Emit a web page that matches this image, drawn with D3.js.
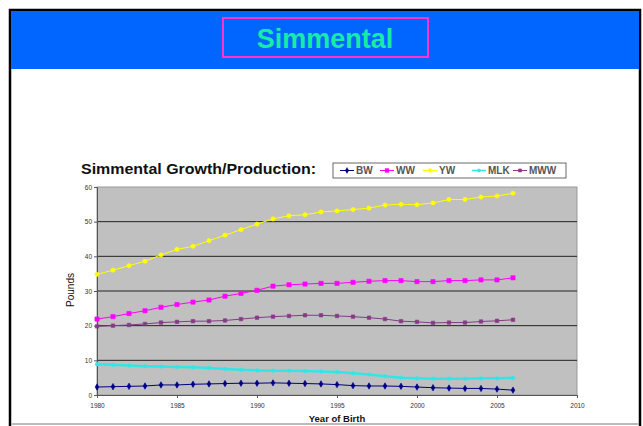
<!DOCTYPE html>
<html>
<head>
<meta charset="utf-8">
<script src="https://cdn.jsdelivr.net/npm/d3@7"></script>
<style>
  html, body { margin: 0; padding: 0; background: #fff; }
  svg { display: block; }
  text { font-family: "Liberation Sans", Arial, sans-serif; }
</style>
</head>
<body>
<svg id="chart" width="643" height="426"></svg>
<script>
// Birth year of each record
const years = [1980, 1981, 1982, 1983, 1984, 1985, 1986, 1987, 1988, 1989,
               1990, 1991, 1992, 1993, 1994, 1995, 1996, 1997, 1998, 1999,
               2000, 2001, 2002, 2003, 2004, 2005, 2006];

// Breed-average EPDs (pounds)
const bw  = [2.3, 2.4, 2.5, 2.6, 2.9, 2.9, 3.1, 3.2, 3.3, 3.4, 3.4, 3.5, 3.4, 3.3, 3.2, 3.0, 2.7, 2.6, 2.6, 2.5, 2.3, 2.1, 2.0, 1.9, 1.9, 1.7, 1.4];
const ww  = [21.9, 22.6, 23.5, 24.3, 25.3, 26.1, 26.8, 27.4, 28.5, 29.3, 30.2, 31.4, 31.8, 32.0, 32.2, 32.2, 32.5, 32.8, 33.0, 33.0, 32.7, 32.7, 33.0, 33.0, 33.2, 33.2, 33.8];
const yw  = [34.8, 36.0, 37.3, 38.6, 40.4, 42.0, 42.9, 44.5, 46.1, 47.7, 49.3, 50.8, 51.7, 52.0, 52.8, 53.1, 53.5, 53.9, 54.8, 55.0, 54.9, 55.4, 56.4, 56.4, 57.1, 57.4, 58.2];
const mlk = [8.9, 8.7, 8.5, 8.3, 8.2, 8.1, 8.0, 7.8, 7.5, 7.3, 7.1, 7.0, 7.0, 6.9, 6.8, 6.6, 6.3, 5.9, 5.4, 5.0, 4.8, 4.7, 4.7, 4.7, 4.8, 4.8, 4.9];
const mww = [19.8, 20.0, 20.2, 20.5, 20.9, 21.1, 21.3, 21.3, 21.5, 21.9, 22.3, 22.6, 22.8, 23.0, 23.0, 22.8, 22.6, 22.3, 21.9, 21.3, 21.1, 20.8, 20.9, 20.9, 21.2, 21.4, 21.7];

const seriesNames = ["BW", "WW", "YW", "MLK", "MWW"];
const xTicks = [1980, 1985, 1990, 1995, 2000, 2005, 2010];
const yTicks = [0, 10, 20, 30, 40, 50, 60];

const series = [
  { name: "BW",  values: bw,  color: "#000080", symbol: d3.symbolDiamond,  size: 12, width: 1 },
  { name: "WW",  values: ww,  color: "#ff00ff", symbol: d3.symbolSquare,   size: 18, width: 1 },
  { name: "YW",  values: yw,  color: "#ffff00", symbol: d3.symbolCircle,   size: 14, width: 1 },
  { name: "MLK", values: mlk, color: "#33e6e6", symbol: d3.symbolCircle,   size: 10, width: 2.5 },
  { name: "MWW", values: mww, color: "#853a85", symbol: d3.symbolSquare,   size: 12, width: 1 }
];

const svg = d3.select("#chart");

// Slide frame and header band
svg.append("rect").attr("x", 10).attr("y", 10).attr("width", 630).attr("height", 420)
  .attr("fill", "#fff").attr("stroke", "#000").attr("stroke-width", 2.5);
svg.append("rect").attr("x", 11).attr("y", 11).attr("width", 628).attr("height", 58)
  .attr("fill", "#0066ff");
svg.append("rect").attr("x", 223).attr("y", 18).attr("width", 205).attr("height", 39)
  .attr("fill", "none").attr("stroke", "#ff33cc").attr("stroke-width", 2);
svg.append("text").attr("x", 325).attr("y", 48).attr("text-anchor", "middle")
  .attr("font-size", 27).attr("font-weight", "bold").attr("fill", "#19eaa8")
  .text("Simmental");
svg.append("line").attr("x1", 11).attr("x2", 639).attr("y1", 424).attr("y2", 424)
  .attr("stroke", "#bbb").attr("stroke-width", 2);

// Plot area
const x = d3.scaleLinear().domain([1980, 2010]).range([97, 577]);
const y = d3.scaleLinear().domain([0, 60]).range([395, 187]);

svg.append("rect").attr("x", x(1980)).attr("y", y(60))
  .attr("width", x(2010) - x(1980)).attr("height", y(0) - y(60))
  .attr("fill", "#c0c0c0").attr("stroke", "#999").attr("stroke-width", 1);

svg.append("g").selectAll("line").data(yTicks.filter(t => t > 0 && t < 60)).join("line")
  .attr("x1", x(1980)).attr("x2", x(2010))
  .attr("y1", d => y(d)).attr("y2", d => y(d))
  .attr("stroke", "#222").attr("stroke-width", 1);

// Axes
const yAxis = svg.append("g").attr("transform", `translate(${x(1980)},0)`)
  .call(d3.axisLeft(y).tickValues(yTicks).tickSize(3).tickPadding(2).tickFormat(d3.format("d")));
const xAxis = svg.append("g").attr("transform", `translate(0,${y(0)})`)
  .call(d3.axisBottom(x).tickValues(xTicks).tickSize(3).tickPadding(5).tickFormat(d3.format("d")));
[xAxis, yAxis].forEach(g => {
  g.select(".domain").attr("stroke", "#555");
  g.selectAll(".tick line").attr("stroke", "#555");
  g.selectAll("text").attr("font-size", 6.5).attr("fill", "#333")
    .attr("font-family", "Liberation Sans, Arial, sans-serif");
});

// Series lines and markers
const line = d3.line().x((d, i) => x(years[i])).y(d => y(d));
series.forEach(s => {
  svg.append("path").datum(s.values).attr("d", line)
    .attr("fill", "none").attr("stroke", s.color).attr("stroke-width", s.width);
  svg.append("g").selectAll("path").data(s.values).join("path")
    .attr("transform", (d, i) => `translate(${x(years[i])},${y(d)})`)
    .attr("d", d3.symbol().type(s.symbol).size(s.size))
    .attr("fill", s.color).attr("stroke", s.color).attr("stroke-width", 0.6);
});

// Titles
svg.append("text").attr("x", 81).attr("y", 174).attr("font-size", 14).attr("font-weight", "bold")
  .attr("textLength", 235).attr("lengthAdjust", "spacingAndGlyphs")
  .attr("fill", "#111").text("Simmental Growth/Production:");
svg.append("text").attr("transform", "translate(74,290) rotate(-90)").attr("text-anchor", "middle")
  .attr("font-size", 10).attr("fill", "#111").text("Pounds");
svg.append("text").attr("x", 337).attr("y", 422).attr("text-anchor", "middle")
  .attr("font-size", 9.5).attr("font-weight", "bold").attr("fill", "#111").text("Year of Birth");

// Legend
const legend = svg.append("g");
legend.append("rect").attr("x", 333).attr("y", 163).attr("width", 233).attr("height", 15)
  .attr("fill", "#fff").attr("stroke", "#444").attr("stroke-width", 0.8);
const legendX = [340, 380, 423, 472, 513];
series.forEach((s, i) => {
  const lx = legendX[i];
  legend.append("line").attr("x1", lx).attr("x2", lx + 14).attr("y1", 170.5).attr("y2", 170.5)
    .attr("stroke", s.color).attr("stroke-width", Math.min(s.width, 1.5));
  legend.append("path").attr("transform", `translate(${lx + 7},170.5)`)
    .attr("d", d3.symbol().type(s.symbol).size(s.size * 0.8))
    .attr("fill", s.color).attr("stroke", s.color).attr("stroke-width", 0.5);
  legend.append("text").attr("x", lx + 16).attr("y", 174).attr("font-size", 10)
    .attr("font-weight", "bold").attr("fill", "#555").text(seriesNames[i]);
});
</script>
</body>
</html>
